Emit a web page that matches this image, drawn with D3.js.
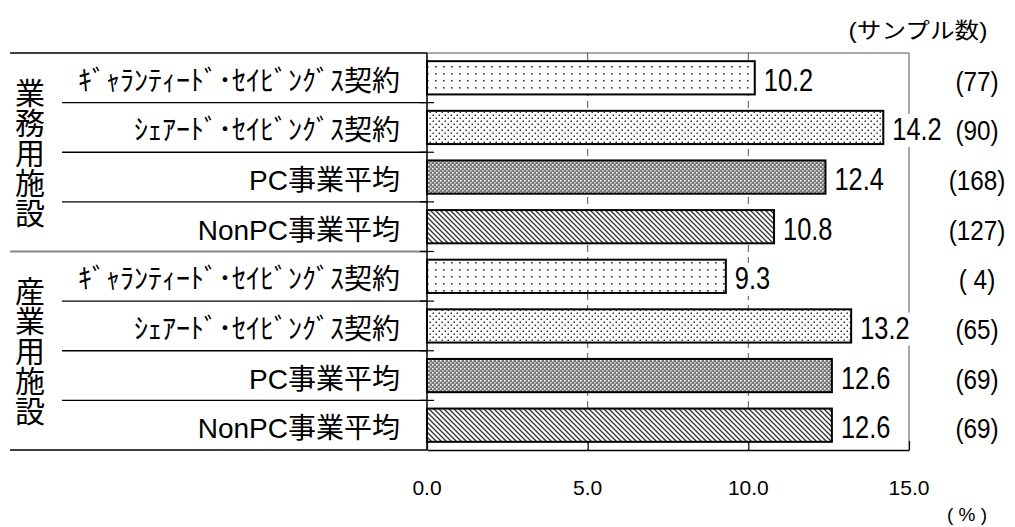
<!DOCTYPE html>
<html><head><meta charset="utf-8">
<script src="https://cdn.jsdelivr.net/npm/d3@7"></script>
<style>body{margin:0;background:#fff}</style>
</head><body>
<svg id="c" width="1015" height="527"></svg>
<script>
const groups = ["業務用施設", "産業用施設"];
const categories = ["ｷﾞｬﾗﾝﾃｨｰﾄﾞ･ｾｲﾋﾞﾝｸﾞｽ契約", "ｼｪｱｰﾄﾞ･ｾｲﾋﾞﾝｸﾞｽ契約", "PC事業平均", "NonPC事業平均"];
const values = [10.2, 14.2, 12.4, 10.8, 9.3, 13.2, 12.6, 12.6];
const sampleCounts = ["(77)", "(90)", "(168)", "(127)", "( 4)", "(65)", "(69)", "(69)"];
const xTicks = [0, 5, 10, 15];
const patternIds = ["pDotsSparse", "pDotsDense", "pCross", "pDiag"];

const rows = values.map((v, i) => ({ i, v, group: Math.floor(i / categories.length), cat: i % categories.length, n: sampleCounts[i] }));

const svg = d3.select("#c");
const LAT = "'Liberation Sans', Arial, 'Noto Sans CJK JP', sans-serif";
const JP = "'Liberation Sans', 'Noto Sans CJK JP', sans-serif";

const plotL = 427, plotR = 909, plotT = 53, plotB = 450;
const x = d3.scaleLinear().domain([0, 15]).range([plotL, plotR]);
const y = d3.scaleBand().domain(d3.range(rows.length)).range([plotT, plotB]).paddingInner(0.33).paddingOuter(0.165);

// patterns
const defs = svg.append("defs");
let p = defs.append("pattern").attr("id", "pDotsSparse").attr("patternUnits", "userSpaceOnUse").attr("width", 8).attr("height", 7);
p.append("rect").attr("width", 8).attr("height", 7).attr("fill", "#fff");
p.append("rect").attr("x", 3).attr("y", 3).attr("width", 1.6).attr("height", 1.6).attr("fill", "#333");

p = defs.append("pattern").attr("id", "pDotsDense").attr("patternUnits", "userSpaceOnUse").attr("width", 6).attr("height", 6);
p.append("rect").attr("width", 6).attr("height", 6).attr("fill", "#fff");
p.append("rect").attr("x", 0.5).attr("y", 0.5).attr("width", 1.5).attr("height", 1.5).attr("fill", "#333");
p.append("rect").attr("x", 3.5).attr("y", 3.5).attr("width", 1.5).attr("height", 1.5).attr("fill", "#333");

p = defs.append("pattern").attr("id", "pCross").attr("patternUnits", "userSpaceOnUse").attr("width", 4).attr("height", 4);
p.append("rect").attr("width", 4).attr("height", 4).attr("fill", "#777");
p.append("rect").attr("x", 0).attr("y", 0).attr("width", 1.6).attr("height", 1.6).attr("fill", "#fff");
p.append("rect").attr("x", 2).attr("y", 2).attr("width", 1.6).attr("height", 1.6).attr("fill", "#d8d8d8");

p = defs.append("pattern").attr("id", "pDiag").attr("patternUnits", "userSpaceOnUse").attr("width", 5).attr("height", 5);
p.append("rect").attr("width", 5).attr("height", 5).attr("fill", "#fff");
p.append("path").attr("d", "M0,0 L5,5 M-1,4 L1,6 M4,-1 L6,1").attr("stroke", "#333").attr("stroke-width", 1.3);

// frame (top/right grey)
svg.append("line").attr("x1", plotL).attr("x2", plotR).attr("y1", plotT).attr("y2", plotT).attr("stroke", "#8c8c8c").attr("stroke-width", 1.5);
svg.append("line").attr("x1", plotR).attr("x2", plotR).attr("y1", plotT).attr("y2", plotB).attr("stroke", "#8c8c8c").attr("stroke-width", 1.5);

// dashed gridlines
svg.append("g").selectAll("line").data(xTicks.filter(t => t > 0 && t < 15)).join("line")
  .attr("x1", d => x(d)).attr("x2", d => x(d)).attr("y1", plotT).attr("y2", plotB)
  .attr("stroke", "#555").attr("stroke-width", 1).attr("stroke-dasharray", "7,5");

// left table lines
const tbl = svg.append("g");
const bounds = d3.range(rows.length + 1).map(k => k === rows.length ? plotB : y(k) - y.step() * y.paddingInner() / 2);
bounds.forEach((b, k) => {
  const major = k % categories.length === 0;
  const isMid = k === categories.length;
  tbl.append("line")
    .attr("x1", major ? 10 : 62).attr("x2", plotL).attr("y1", b).attr("y2", b)
    .attr("stroke", isMid ? "#888" : "#000").attr("stroke-width", isMid ? 2.2 : 1.3);
});

// bars
svg.append("g").selectAll("rect").data(rows).join("rect")
  .attr("x", x(0)).attr("y", d => y(d.i)).attr("width", d => x(d.v) - x(0)).attr("height", y.bandwidth())
  .attr("fill", d => `url(#${patternIds[d.cat]})`).attr("stroke", "#000").attr("stroke-width", 2);

// axes
const xAxis = d3.axisBottom(x).tickValues(xTicks).tickSizeInner(-9).tickSizeOuter(0).tickFormat("");
const gx = svg.append("g").attr("transform", `translate(0,${plotB})`).call(xAxis);
gx.select(".domain").attr("stroke", "#000").attr("stroke-width", 1.5);
gx.selectAll(".tick line").attr("stroke", "#000").attr("stroke-width", 1.2);

svg.append("line").attr("x1", plotL).attr("x2", plotL).attr("y1", plotT).attr("y2", plotB).attr("stroke", "#000").attr("stroke-width", 1.5);
svg.append("g").selectAll("line").data(bounds.slice(1, -1)).join("line")
  .attr("x1", plotL - 7).attr("x2", plotL + 7).attr("y1", d => d).attr("y2", d => d)
  .attr("stroke", "#000").attr("stroke-width", 1.2);

// tick labels
svg.append("g").selectAll("text").data(xTicks).join("text")
  .attr("x", d => x(d)).attr("y", 495).attr("text-anchor", "middle")
  .attr("font-family", LAT).attr("font-size", 21).attr("fill", "#000")
  .text(d => d3.format(".1f")(d));

// value labels with white background boxes
const vl = svg.append("g").selectAll("g").data(rows).join("g")
  .attr("transform", d => `translate(${x(d.v) + 9},${y(d.i) + y.bandwidth() / 2 + 13}) scale(0.82,1)`);
const bgRects = vl.append("rect").attr("fill", "#fff");
vl.append("text")
  .attr("font-family", LAT).attr("font-size", 31).attr("fill", "#000")
  .text(d => d3.format(".1f")(d.v));
vl.each(function () {
  const g = d3.select(this);
  const bb = g.select("text").node().getBBox();
  g.select("rect").attr("x", bb.x - 2).attr("y", bb.y + 2).attr("width", bb.width + 4).attr("height", bb.height - 2);
});

// sample counts
svg.append("g").selectAll("text").data(rows).join("text")
  .attr("transform", d => `translate(977,${y(d.i) + y.bandwidth() / 2 + 13}) scale(0.9,1)`)
  .attr("text-anchor", "middle")
  .attr("font-family", LAT).attr("font-size", 27).attr("fill", "#000")
  .text(d => d.n);

// row labels
svg.append("g").selectAll("text").data(rows).join("text")
  .attr("x", 400).attr("y", d => y(d.i) + y.bandwidth() / 2 + 13).attr("text-anchor", "end")
  .attr("font-family", JP).attr("font-size", 28).attr("fill", "#000")
  .text(d => categories[d.cat]);

// group labels (vertical)
svg.append("g").selectAll("text").data(groups).join("text")
  .attr("x", 30).attr("y", (d, g) => (bounds[g * categories.length] + bounds[(g + 1) * categories.length]) / 2)
  .attr("text-anchor", "middle").style("writing-mode", "vertical-rl")
  .attr("font-family", "'Noto Sans CJK JP', sans-serif").attr("font-size", 30).attr("fill", "#000")
  .text(d => d);

// header and unit
svg.append("text").attr("transform", "translate(918,38) scale(1.12,1)").attr("text-anchor", "middle")
  .attr("font-family", JP).attr("font-size", 22).attr("fill", "#000").text("(サンプル数)");
svg.append("text").attr("x", 967).attr("y", 521).attr("text-anchor", "middle")
  .attr("font-family", LAT).attr("font-size", 19).attr("fill", "#000").text("( % )");
</script>
</body></html>
